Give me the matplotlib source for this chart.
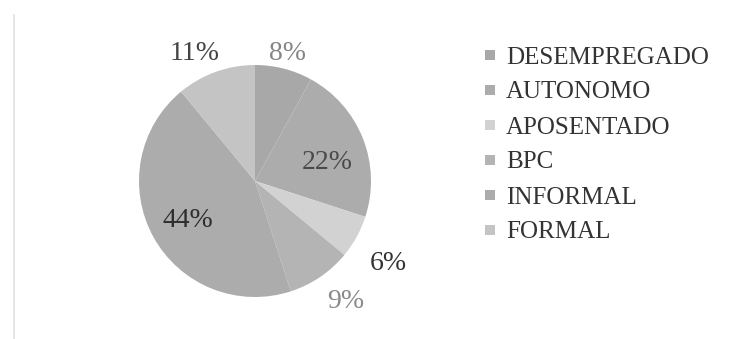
import matplotlib
matplotlib.use("Agg")
import matplotlib.pyplot as plt
from matplotlib.lines import Line2D

categories = ["DESEMPREGADO", "AUTONOMO", "APOSENTADO", "BPC", "INFORMAL", "FORMAL"]
values = [8, 22, 6, 9, 44, 11]
pct_labels = ["8%", "22%", "6%", "9%", "44%", "11%"]

colors = ["#a8a8a8", "#acacac", "#d2d2d2", "#b4b4b4", "#acacac", "#c4c4c4"]
label_colors = ["#858585", "#4a4a4a", "#333333", "#8a8a8a", "#2e2e2e", "#444444"]
# label positions relative to pie centre, in units of the radius
label_pos = [(0.28, 1.10), (0.62, 0.16), (1.15, -0.71), (0.78, -1.04), (-0.58, -0.34), (-0.52, 1.10)]

W, H = 743, 339
fig = plt.figure(figsize=(W / 100, H / 100), dpi=100)
fig.patch.set_facecolor("white")

cx, cy, r = 255, 181, 116
ax = fig.add_axes([(cx - r) / W, (H - cy - r) / H, 2 * r / W, 2 * r / H])
wedges, _ = ax.pie(values, colors=colors, startangle=90, counterclock=False,
                   radius=1, wedgeprops=dict(linewidth=0))
ax.set_xlim(-1, 1)
ax.set_ylim(-1, 1)
ax.set_aspect("equal")
ax.axis("off")

for txt, (x, y), c in zip(pct_labels, label_pos, label_colors):
    ax.text(x, y, txt, ha="center", va="center", fontsize=20,
            family="Liberation Serif", color=c, clip_on=False)

handles = [Line2D([], [], marker="s", linestyle="none", markersize=7.5,
                  markerfacecolor=col, markeredgewidth=0) for col in colors]
leg = fig.legend(handles, categories, loc="upper left",
                 bbox_to_anchor=(482 / W, 1 - 46 / H), frameon=False,
                 prop=dict(family="Liberation Serif", size=18),
                 handlelength=0.6, handletextpad=0.35, labelspacing=0.5,
                 borderaxespad=0, borderpad=0)
for t in leg.get_texts():
    t.set_color("#333333")

fig.add_artist(Line2D([14 / W, 14 / W], [0, 1 - 15 / H], transform=fig.transFigure,
                      color="#e2e2e2", linewidth=1.2))

fig.savefig("out.png", dpi=100, facecolor="white")
